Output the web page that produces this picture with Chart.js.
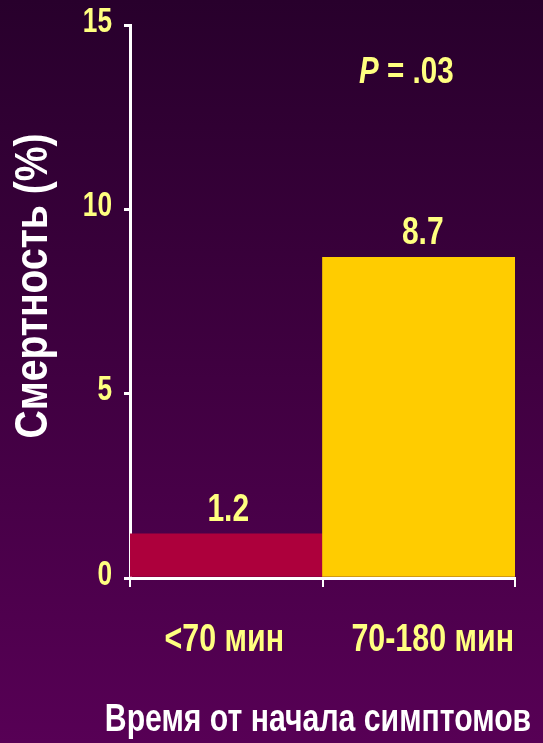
<!DOCTYPE html>
<html>
<head>
<meta charset="utf-8">
<script src="https://cdn.jsdelivr.net/npm/chart.js@4"></script>
<style>
    html, body { margin: 0; padding: 0; background: #3a0040; }
    #wrap { width: 543px; height: 743px; }
</style>
</head>
<body>
<div id="wrap"><canvas id="barChart"></canvas></div>
<script>
const categories = ['<70 мин', '70-180 мин'];
const mortality = [1.2, 8.7];
const barColors = ['#ad003c', '#ffcc00'];
const yTicks = [0, 5, 10, 15];
const pText = '.03';

const FONT = "'Liberation Sans', Arial, sans-serif";
const YELLOW = '#ffff80';

// the reference uses a narrow bold face, so squeeze the text horizontally
function narrowText(ctx, text, x, y, size, squeeze, align, style) {
    ctx.save();
    ctx.translate(x, y);
    ctx.scale(squeeze, 1);
    ctx.font = (style || 'bold') + ' ' + size + 'px ' + FONT;
    ctx.textAlign = align || 'center';
    ctx.textBaseline = 'middle';
    ctx.fillText(text, 0, 0);
    const w = ctx.measureText(text).width * squeeze;
    ctx.restore();
    return w;
}

const decor = {
    id: 'decor',
    beforeDraw(chart) {
        const { ctx, width, height } = chart;
        const g = ctx.createLinearGradient(0, 0, 0, height);
        g.addColorStop(0, '#28002c');
        g.addColorStop(1, '#570055');
        ctx.save();
        ctx.fillStyle = g;
        ctx.fillRect(0, 0, width, height);
        ctx.restore();
    },
    afterDraw(chart) {
        const { ctx } = chart;
        const x = chart.scales.x, y = chart.scales.y;
        ctx.save();
        ctx.fillStyle = YELLOW;

        // y tick labels
        yTicks.forEach(v => {
            narrowText(ctx, String(v), 112, y.getPixelForValue(v) - 3, 35, 0.75, 'right');
        });

        // value labels above bars
        const nudge = [2, 4];
        mortality.forEach((v, i) => {
            narrowText(ctx, v.toFixed(1), x.getPixelForValue(i) + nudge[i], y.getPixelForValue(v) - 24, 39, 0.77);
        });

        // category labels
        const shift = [-2, 14];
        categories.forEach((c, i) => {
            narrowText(ctx, c, x.getPixelForValue(i) + shift[i], 641, 38, 0.8);
        });

        // P value
        const pw = narrowText(ctx, 'P', 359, 73, 37, 0.8, 'left', 'italic bold');
        narrowText(ctx, ' = ' + pText, 359 + pw, 73, 37, 0.8, 'left');

        // axis titles
        ctx.fillStyle = '#ffffff';
        narrowText(ctx, 'Время от начала симптомов', 318, 721, 38, 0.795);

        ctx.translate(34, 286);
        ctx.rotate(-Math.PI / 2);
        narrowText(ctx, 'Смертность (%)', 0, 0, 46, 0.85);
        ctx.restore();
    }
};

const data = {
    labels: categories,
    datasets: [{
        data: mortality,
        backgroundColor: barColors,
        borderWidth: 0,
        categoryPercentage: 1.0,
        barPercentage: 1.0
    }]
};

const config = {
    type: 'bar',
    data: data,
    options: {
        responsive: true,
        maintainAspectRatio: false,
        animation: false,
        layout: { padding: { top: 25, right: 28, left: 0, bottom: 0 } },
        plugins: {
            legend: { display: false },
            tooltip: { enabled: false }
        },
        scales: {
            x: {
                grid: {
                    offset: true,
                    drawOnChartArea: false,
                    color: '#ffffff',
                    lineWidth: 2,
                    tickLength: 9
                },
                border: { color: '#ffffff', width: 3 },
                ticks: { display: false },
                afterFit: (scale) => { scale.height = 165; }
            },
            y: {
                min: 0,
                max: 15,
                afterBuildTicks: (scale) => {
                    scale.ticks = yTicks.map(v => ({ value: v }));
                },
                grid: {
                    drawOnChartArea: false,
                    color: '#ffffff',
                    lineWidth: 3,
                    tickLength: 6
                },
                border: { color: '#ffffff', width: 3 },
                ticks: { display: false },
                afterFit: (scale) => { scale.width = 130; }
            }
        }
    },
    plugins: [decor]
};

window.onload = function () {
    const ctx = document.getElementById('barChart').getContext('2d');
    new Chart(ctx, config);
};
</script>
</body>
</html>
